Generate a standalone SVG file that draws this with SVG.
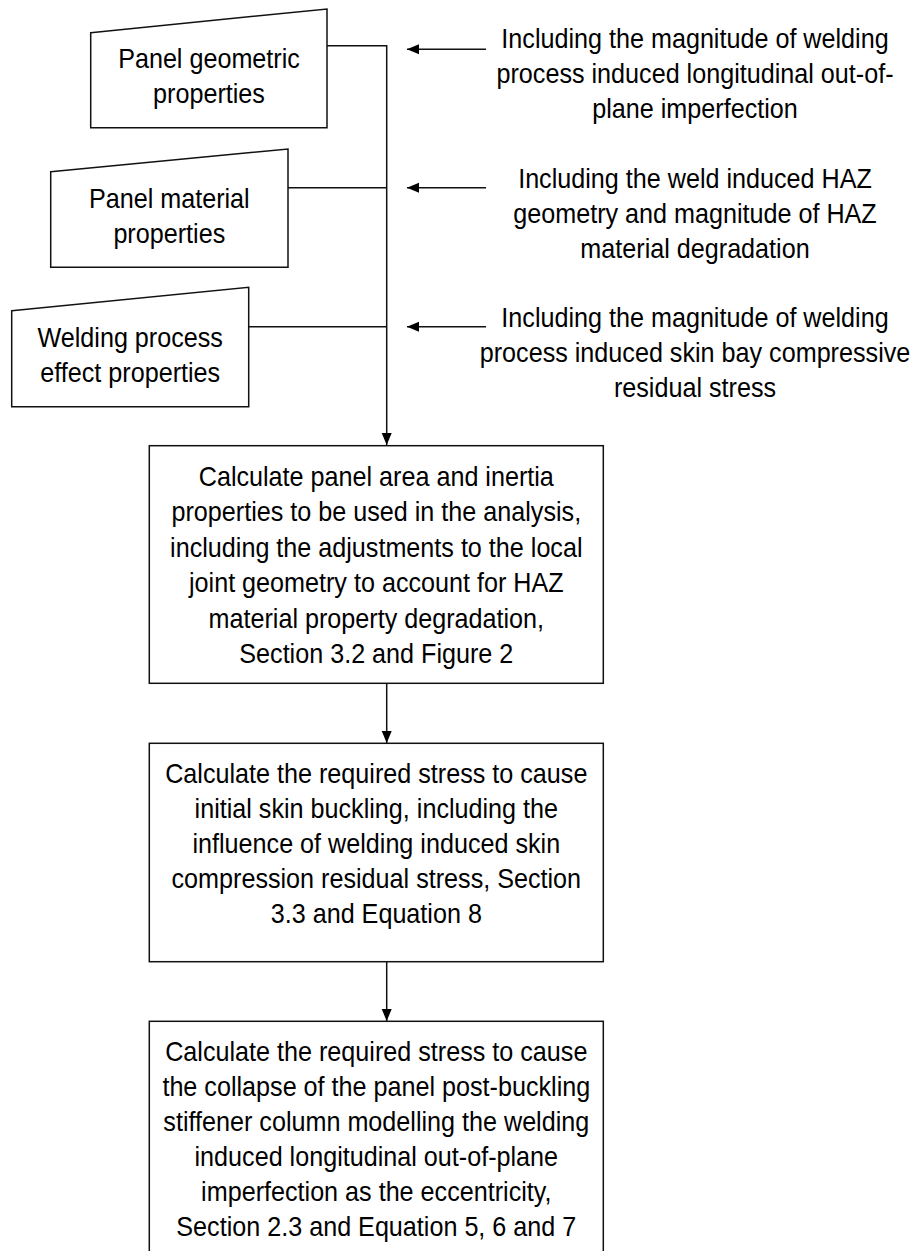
<svg xmlns="http://www.w3.org/2000/svg" width="911" height="1251" viewBox="0 0 911 1251">
<defs>
<marker id="ah" viewBox="0 0 12 11" refX="12" refY="5.5" markerWidth="12" markerHeight="11" markerUnits="userSpaceOnUse" orient="auto">
<path d="M0,0.5 L12,5.5 L0,10.5 Z" fill="#000"/>
</marker>
<style>
.shape{fill:#fff;stroke:#111;stroke-width:1.5}
.line{fill:none;stroke:#111;stroke-width:1.5}
.arr{fill:none;stroke:#111;stroke-width:1.5;marker-end:url(#ah)}
text{font-family:"Liberation Sans",Arial,sans-serif;font-size:27.5px;fill:#000;text-anchor:middle}
</style>
</defs>
<rect width="911" height="1251" fill="#fff"/>

<g id="connectors">
<line class="line" x1="327" y1="45.7" x2="386.7" y2="45.7"/>
<line class="line" x1="288" y1="187.7" x2="386.7" y2="187.7"/>
<line class="line" x1="248.7" y1="326.7" x2="386.7" y2="326.7"/>
<line class="arr" x1="386.7" y1="45" x2="386.7" y2="445"/>
<line class="arr" x1="486" y1="49.3" x2="407" y2="49.3"/>
<line class="arr" x1="486" y1="187.7" x2="407" y2="187.7"/>
<line class="arr" x1="486" y1="326.7" x2="407" y2="326.7"/>
<line class="arr" x1="386.7" y1="683.3" x2="386.7" y2="743"/>
<line class="arr" x1="386.7" y1="961.7" x2="386.7" y2="1021"/>
</g>

<g id="input-geometric">
<polygon class="shape" points="90.7,32.7 327,9 327,127.7 90.7,127.7"/>
<g transform="translate(209 0) scale(0.915 1)">
<text x="0" y="68.3">Panel geometric</text>
<text x="0" y="103.3">properties</text>
</g>
</g>

<g id="input-material">
<polygon class="shape" points="50.7,171.7 288,149 288,267.3 50.7,267.3"/>
<g transform="translate(169.3 0) scale(0.915 1)">
<text x="0" y="208.3">Panel material</text>
<text x="0" y="243">properties</text>
</g>
</g>

<g id="input-welding">
<polygon class="shape" points="11.7,310.7 248.7,287.3 248.7,406.7 11.7,406.7"/>
<g transform="translate(130.2 0) scale(0.915 1)">
<text x="0" y="346.7">Welding process</text>
<text x="0" y="381.7">effect properties</text>
</g>
</g>

<g id="note-imperfection">
<g transform="translate(695 0) scale(0.915 1)">
<text x="0" y="48.5">Including the magnitude of welding</text>
<text x="0" y="83.5">process induced longitudinal out-of-</text>
<text x="0" y="118.5">plane imperfection</text>
</g>
</g>

<g id="note-haz">
<g transform="translate(695 0) scale(0.915 1)">
<text x="0" y="188">Including the weld induced HAZ</text>
<text x="0" y="223">geometry and magnitude of HAZ</text>
<text x="0" y="258">material degradation</text>
</g>
</g>

<g id="note-residual">
<g transform="translate(695 0) scale(0.915 1)">
<text x="0" y="327">Including the magnitude of welding</text>
<text x="0" y="362">process induced skin bay compressive</text>
<text x="0" y="397">residual stress</text>
</g>
</g>

<g id="box-area">
<rect class="shape" x="149.3" y="445.7" width="454" height="237.6"/>
<g transform="translate(376.3 0) scale(0.915 1)">
<text x="0" y="486">Calculate panel area and inertia</text>
<text x="0" y="521.5">properties to be used in the analysis,</text>
<text x="0" y="557">including the adjustments to the local</text>
<text x="0" y="592.5">joint geometry to account for HAZ</text>
<text x="0" y="628">material property degradation,</text>
<text x="0" y="663.5">Section 3.2 and Figure 2</text>
</g>
</g>

<g id="box-buckling">
<rect class="shape" x="149.3" y="743.3" width="454" height="218.4"/>
<g transform="translate(376.3 0) scale(0.915 1)">
<text x="0" y="783.5">Calculate the required stress to cause</text>
<text x="0" y="818.5">initial skin buckling, including the</text>
<text x="0" y="853.5">influence of welding induced skin</text>
<text x="0" y="888.5">compression residual stress, Section</text>
<text x="0" y="923.5">3.3 and Equation 8</text>
</g>
</g>

<g id="box-collapse">
<rect class="shape" x="149.3" y="1021.3" width="454" height="245"/>
<g transform="translate(376.3 0) scale(0.915 1)">
<text x="0" y="1061">Calculate the required stress to cause</text>
<text x="0" y="1096">the collapse of the panel post-buckling</text>
<text x="0" y="1131">stiffener column modelling the welding</text>
<text x="0" y="1166">induced longitudinal out-of-plane</text>
<text x="0" y="1201">imperfection as the eccentricity,</text>
<text x="0" y="1236">Section 2.3 and Equation 5, 6 and 7</text>
</g>
</g>
</svg>
